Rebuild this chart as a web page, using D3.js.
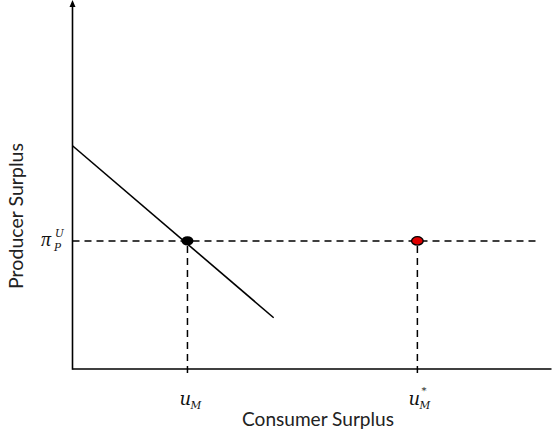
<!DOCTYPE html>
<html><head><meta charset="utf-8">
<script src="https://cdn.jsdelivr.net/npm/d3@7"></script>
<style>body{margin:0;background:#fff}svg{display:block}</style>
</head><body><svg id="c" width="552" height="435"></svg>
<script>
// Data (abstract units 0..100)
const frontierX = [0, 42];
const frontierY = [61, 14];
const piPU = 35;
const uM = 24;
const uMstar = 72;
const dashEndX = 97.5;
const axisTitles = ["Consumer Surplus", "Producer Surplus"];

const svg = d3.select("#c");
const x = d3.scaleLinear().domain([0, 100]).range([72.5, 551.5]);
const y = d3.scaleLinear().domain([0, 100]).range([369, 3]);

// dashed lines
svg.append("line").attr("x1",x(0)).attr("x2",x(dashEndX)).attr("y1",y(piPU)).attr("y2",y(piPU))
  .attr("stroke","#000").attr("stroke-width",1.5).attr("stroke-dasharray","7,5");
[uM, uMstar].forEach(v => {
  svg.append("line").attr("x1",x(v)).attr("x2",x(v)).attr("y1",y(piPU)+5).attr("y2",y(-2))
    .attr("stroke","#000").attr("stroke-width",1.5).attr("stroke-dasharray","7,5");
});

// axes
svg.append("line").attr("x1",x(0)).attr("x2",x(0)).attr("y1",y(0)+0.8).attr("y2",y(99))
  .attr("stroke","#000").attr("stroke-width",1.6);
svg.append("path").attr("d",`M${x(0)},${y(100)-3} L${x(0)-3},${y(100)+4} L${x(0)+3},${y(100)+4} Z`).attr("fill","#000");
svg.append("line").attr("x1",x(0)).attr("x2",x(100)).attr("y1",y(0)).attr("y2",y(0))
  .attr("stroke","#000").attr("stroke-width",1.6);

// frontier line
svg.append("path").datum(frontierX.map((d,i)=>[d,frontierY[i]]))
  .attr("d", d3.line().x(d=>x(d[0])).y(d=>y(d[1])))
  .attr("stroke","#000").attr("stroke-width",1.6).attr("fill","none");

// points
svg.append("ellipse").attr("cx",x(uM)).attr("cy",y(piPU)).attr("rx",6).attr("ry",4.7).attr("fill","#000");
svg.append("ellipse").attr("cx",x(uMstar)).attr("cy",y(piPU)).attr("rx",5.8).attr("ry",4.2)
  .attr("fill","#e00000").attr("stroke","#000").attr("stroke-width",1.3);

const mathFont = "'DejaVu Serif', 'Liberation Serif', serif";
function mt(g, tx, ty, s, size, italic, fam) {
  g.append("text").attr("x",tx).attr("y",ty).attr("font-family",fam || mathFont)
    .attr("font-style", italic ? "italic" : "normal").attr("font-size",size).attr("fill","#111").text(s);
}
// u_M
{
  const g = svg.append("g").attr("transform",`translate(${x(uM)},405)`);
  mt(g, -8, 0, "u", 18, true);
  mt(g, 3, 4, "M", 10.5, true);
}
// u*_M
{
  const g = svg.append("g").attr("transform",`translate(${x(uMstar)},405)`);
  mt(g, -9, 0, "u", 18, true);
  mt(g, 2, 4, "M", 10.5, true);
  mt(g, 4, -11, "*", 10, false);
}
// pi_P^U
{
  const g = svg.append("g").attr("transform",`translate(41,${y(piPU)+5})`);
  mt(g, 0, 0, "π", 20, true, "'Liberation Serif', serif");
  mt(g, 13, 5, "P", 10.5, true);
  mt(g, 14, -9, "U", 10.5, true);
}

// axis titles fitted to reference widths
const titleFont = "Lato, 'Open Sans', sans-serif";
function fitted(sel, target) {
  const w = sel.node().getComputedTextLength();
  sel.attr("font-size", 16 * target / w);
}
const ct = svg.append("text").attr("x",318).attr("y",426).attr("text-anchor","middle")
  .attr("font-family",titleFont).attr("font-size",16).attr("fill","#222").text(axisTitles[0]);
fitted(ct, 152);
const pt = svg.append("text").attr("transform","translate(23,216) rotate(-90)").attr("text-anchor","middle")
  .attr("font-family",titleFont).attr("font-size",16).attr("fill","#222").text(axisTitles[1]);
fitted(pt, 146);
</script></body></html>
